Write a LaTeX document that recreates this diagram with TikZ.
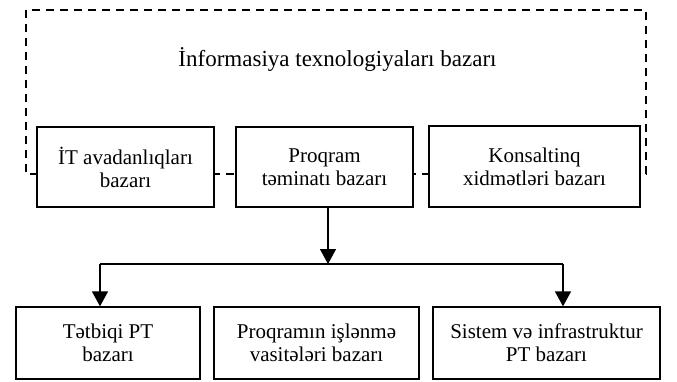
\documentclass[tikz,border=0pt]{standalone}
\usepackage{fontspec}
\setmainfont{Liberation Serif}
\usetikzlibrary{arrows.meta}
\begin{document}
\begin{tikzpicture}[x=1pt,y=-1pt,
  box/.style={draw=black,line width=1.3pt,fill=white,align=center,inner sep=0pt,
    font=\fontsize{21}{23}\selectfont},
  conn/.style={line width=1.5pt,-{Triangle[length=15pt,width=16pt]}},
  frame/.style={line width=1.3pt,dash pattern=on 8pt off 6pt}]
\useasboundingbox (0,0) rectangle (677,381);
\draw[frame] (26,10) rectangle (646,174);
\node[font=\fontsize{23}{26}\selectfont] (title) at (337.5,59) {İnformasiya texnologiyaları bazarı};
\node[box,minimum width=177pt,minimum height=80pt] (t1) at (125.5,167) {İT avadanlıqları\\bazarı};
\node[box,minimum width=177pt,minimum height=80pt] (t2) at (324.5,167) {Proqram\\təminatı bazarı};
\node[box,minimum width=211pt,minimum height=81pt] (t3) at (534.5,166.5) {Konsaltinq\\xidmətləri bazarı};
\node[box,minimum width=184pt,minimum height=72pt] (b1) at (108,343) {Tətbiqi PT\\bazarı};
\node[box,minimum width=205pt,minimum height=72pt] (b2) at (316.5,343) {Proqramın işlənmə\\vasitələri bazarı};
\node[box,minimum width=227pt,minimum height=72pt] (b3) at (546.5,343) {Sistem və infrastruktur\\PT bazarı};
\coordinate (j) at (328,264);
\coordinate (jl) at (100,264);
\coordinate (jr) at (563,264);
\draw[conn] (t2.south -| j) -- (j);
\draw[line width=1.5pt] (jl) -- (jr);
\draw[conn] (jl) -- (jl |- b1.north);
\draw[conn] (jr) -- (jr |- b3.north);
\end{tikzpicture}
\end{document}
